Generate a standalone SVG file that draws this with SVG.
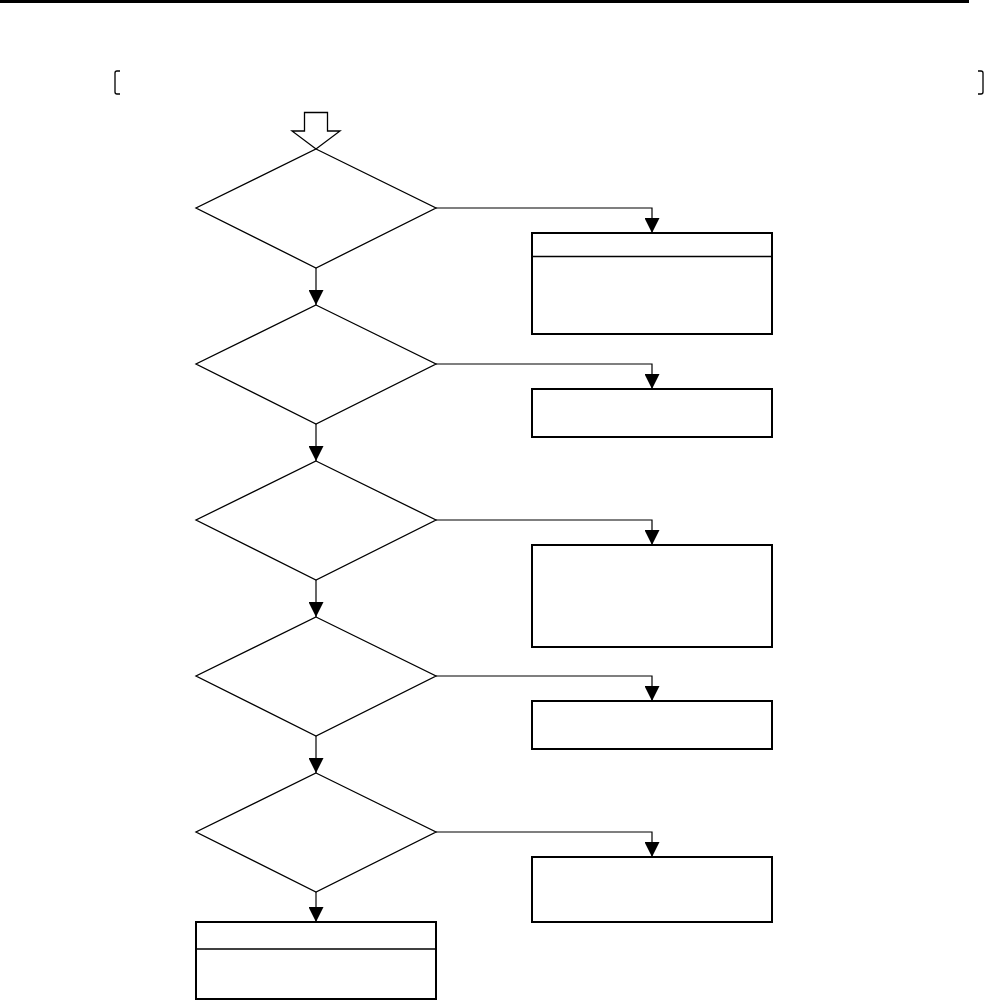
<svg xmlns="http://www.w3.org/2000/svg" width="984" height="1002" viewBox="0 0 984 1002">
<style>
.dia{fill:#fff;stroke:#000;stroke-width:1.3}
.box{fill:#fff;stroke:#000;stroke-width:2}
.div{stroke:#000;stroke-width:1.5}
.con{fill:none;stroke:#000;stroke-width:1.2}
.br{fill:none;stroke:#000;stroke-width:1.3}
</style>
<defs>
<marker id="ah" viewBox="0 0 15 15" markerWidth="15" markerHeight="15" refX="15" refY="7.5" orient="auto" markerUnits="userSpaceOnUse">
<path d="M0,0 L15,7.5 L0,15 Z" fill="#000"/>
</marker>
</defs>
<rect x="0" y="0" width="969" height="3" fill="#000"/>
<path class="br" d="M120,71 L117,71 Q115,71 115,73 L115,92 Q115,94 117,94 L120,94"/>
<path class="br" d="M978,71 L981,71 Q983,71 983,73 L983,92 Q983,94 981,94 L978,94"/>
<g id="start">
<path d="M304.5,112.5 L327.5,112.5 L327.5,131 L340,131 L316,149 L292,131 L304.5,131 Z" fill="#fff" stroke="#000" stroke-width="1.3"/>
</g>
<g id="connectors">
<path class="con" d="M316,268 L316,305" marker-end="url(#ah)"/>
<path class="con" d="M316,424 L316,461" marker-end="url(#ah)"/>
<path class="con" d="M316,580 L316,617" marker-end="url(#ah)"/>
<path class="con" d="M316,736 L316,773" marker-end="url(#ah)"/>
<path class="con" d="M316,892 L316,922" marker-end="url(#ah)"/>
<path class="con" d="M436,208 L652,208 L652,233" marker-end="url(#ah)"/>
<path class="con" d="M436,364 L652,364 L652,389" marker-end="url(#ah)"/>
<path class="con" d="M436,520 L652,520 L652,545" marker-end="url(#ah)"/>
<path class="con" d="M436,676 L652,676 L652,701" marker-end="url(#ah)"/>
<path class="con" d="M436,832 L652,832 L652,857" marker-end="url(#ah)"/>
</g>
<g id="d1"><polygon class="dia" points="316,149 436,208 316,268 196,208"/></g>
<g id="d2"><polygon class="dia" points="316,305 436,364 316,424 196,364"/></g>
<g id="d3"><polygon class="dia" points="316,461 436,520 316,580 196,520"/></g>
<g id="d4"><polygon class="dia" points="316,617 436,676 316,736 196,676"/></g>
<g id="d5"><polygon class="dia" points="316,773 436,832 316,892 196,832"/></g>
<g id="b1"><rect class="box" x="532" y="233" width="240" height="101"/><line class="div" x1="532" y1="256.5" x2="772" y2="256.5"/></g>
<g id="b2"><rect class="box" x="532" y="389" width="240" height="48"/></g>
<g id="b3"><rect class="box" x="532" y="545" width="240" height="102"/></g>
<g id="b4"><rect class="box" x="532" y="701" width="240" height="48"/></g>
<g id="b5"><rect class="box" x="532" y="857" width="240" height="65"/></g>
<g id="b6"><rect class="box" x="196" y="922" width="240" height="77"/><line class="div" x1="196" y1="949" x2="436" y2="949"/></g>
</svg>
